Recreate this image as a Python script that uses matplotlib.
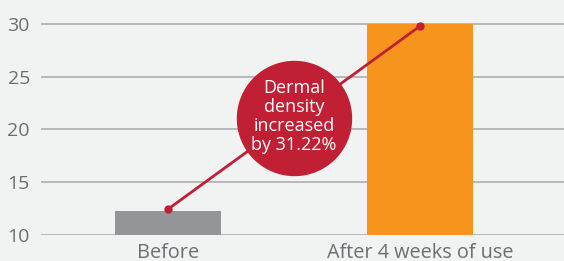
import matplotlib.pyplot as plt

# chart data
categories = ["Before", "After 4 weeks of use"]
bar_values = [12.27, 30.0]
line_values = [12.45, 29.8]
yticks = [10, 15, 20, 25, 30]
callout = "Dermal\ndensity\nincreased\nby 31.22%"

bg = "#f1f2f2"
plt.rcParams['font.family'] = ['Open Sans', 'DejaVu Sans']

fig = plt.figure(figsize=(5.64, 2.61), dpi=100, facecolor=bg)
ax = fig.add_axes([41 / 564, 26 / 261, 523 / 564, 235 / 261], facecolor=bg)

x = list(range(len(categories)))
ax.bar(x, bar_values, width=0.42, color=["#939598", "#f7941d"], zorder=2)
ax.plot(x, line_values, color="#c11f33", lw=2, marker="o", ms=5, zorder=3)

# callout bubble
ax.scatter([0.5], [21.1], s=(114 * 0.72) ** 2, color="#c11f33", zorder=4)
ax.text(0.5, 21.2, callout, color="white", ha="center", va="center",
        fontsize=13, linespacing=1.08, zorder=5)

ax.set_xlim(-0.504, 1.571)
ax.set_ylim(10, 32.27)
ax.set_yticks(yticks)
ax.set_xticks(x)
ax.set_xticklabels(categories)
ax.grid(axis="y", color="#b3b3b3", lw=1.3, zorder=1)
ax.tick_params(length=0, labelsize=14, colors="#6d6e71", pad=8)
ax.tick_params(axis="x", labelsize=14.3, pad=6)
for s in ax.spines.values():
    s.set_visible(False)

fig.savefig("out.png", dpi=100, facecolor=bg)
